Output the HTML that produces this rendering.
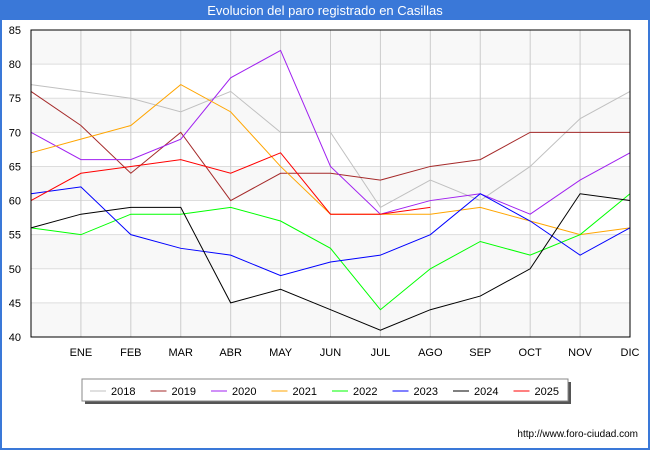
<!DOCTYPE html>
<html><head><meta charset="utf-8"><style>
body{margin:0;width:650px;height:450px;overflow:hidden;font-family:"Liberation Sans","DejaVu Sans",sans-serif}
</style></head><body>
<svg id="c" width="650" height="450" xmlns="http://www.w3.org/2000/svg">
<rect x="0" y="0" width="650" height="450" fill="#3a78d8"/>
<rect x="2" y="20" width="646" height="428" fill="#fff"/>
<text x="325" y="15" fill="#fff" font-size="13" text-anchor="middle">Evolucion del paro registrado en Casillas</text>
<g id="grid"></g><g id="lines"></g>
<rect x="31" y="30" width="599" height="307" fill="none" stroke="#000" stroke-width="1"/>
<g id="legend"></g>
<text x="638" y="437" font-size="10" text-anchor="end" fill="#000">http://www.foro-ciudad.com</text>
</svg>
<script>
const months=["","ENE","FEB","MAR","ABR","MAY","JUN","JUL","AGO","SEP","OCT","NOV","DIC"];
const yTicks=[40,45,50,55,60,65,70,75,80,85];
const seriesNames=["2018","2019","2020","2021","2022","2023","2024","2025"];
const colors=["#c0c0c0","#a52a2a","#a020f0","#ffa500","#00ff00","#0000ff","#000000","#ff0000"];
const s2018=[77,76,75,73,76,70,70,59,63,60,65,72,76];
const s2019=[76,71,64,70,60,64,64,63,65,66,70,70,70];
const s2020=[70,66,66,69,78,82,65,58,60,61,58,63,67];
const s2021=[67,69,71,77,73,65,58,58,58,59,57,55,56];
const s2022=[56,55,58,58,59,57,53,44,50,54,52,55,61];
const s2023=[61,62,55,53,52,49,51,52,55,61,57,52,56];
const s2024=[56,58,59,59,45,47,44,41,44,46,50,61,60];
const s2025=[60,64,65,66,64,67,58,58,59];
const all=[s2018,s2019,s2020,s2021,s2022,s2023,s2024,s2025];
const NS="http://www.w3.org/2000/svg";
const x=i=>31+i*(599/12);
const y=v=>337-(v-40)*(307/45);
function mk(t,a,p){const e=document.createElementNS(NS,t);for(const k in a)e.setAttribute(k,a[k]);p.appendChild(e);return e;}
const g=document.getElementById('grid');
for(let i=0;i<yTicks.length-1;i++){
 if(i%2==0){const b=mk('rect',{x:31,y:y(yTicks[i+1]),width:599,height:y(yTicks[i])-y(yTicks[i+1]),fill:'#f8f8f8'},g);
 
 }
}
yTicks.forEach(v=>{
 const l=mk('line',{x1:31,x2:630,y1:y(v),y2:y(v),stroke:'#ddd'},g);
 
 
 const t=mk('text',{x:21,y:y(v)+4,'font-size':11,'text-anchor':'end'},g);t.textContent=v;
 
 
});
months.forEach((m,i)=>{
 if(i>0){const l=mk('line',{x1:x(i),x2:x(i),y1:30,y2:337,stroke:'#ccc'},g);
 
 }
 const t=mk('text',{x:x(i),y:356,'font-size':11,'text-anchor':'middle'},g);t.textContent=m;
 
 
});
const L=document.getElementById('lines');
all.forEach((s,k)=>{
 const p=mk('polyline',{points:s.map((v,i)=>x(i)+','+y(v)).join(' '),fill:'none',stroke:colors[k],'stroke-width':1},L);
 
 
});
const lg=document.getElementById('legend');
mk('rect',{x:85,y:382,width:486,height:22,fill:'#555'},lg);
const box=mk('rect',{x:82,y:379,width:486,height:22,fill:'#fff',stroke:'#888'},lg);


seriesNames.forEach((n,k)=>{
 const lx=90+k*60.5;
 const l=mk('line',{x1:lx,x2:lx+16,y1:391,y2:391,stroke:colors[k],'stroke-width':1},lg);
 
 
 const t=mk('text',{x:lx+21,y:395,'font-size':11},lg);t.textContent=n;
 
 
});
</script>
</body></html>
